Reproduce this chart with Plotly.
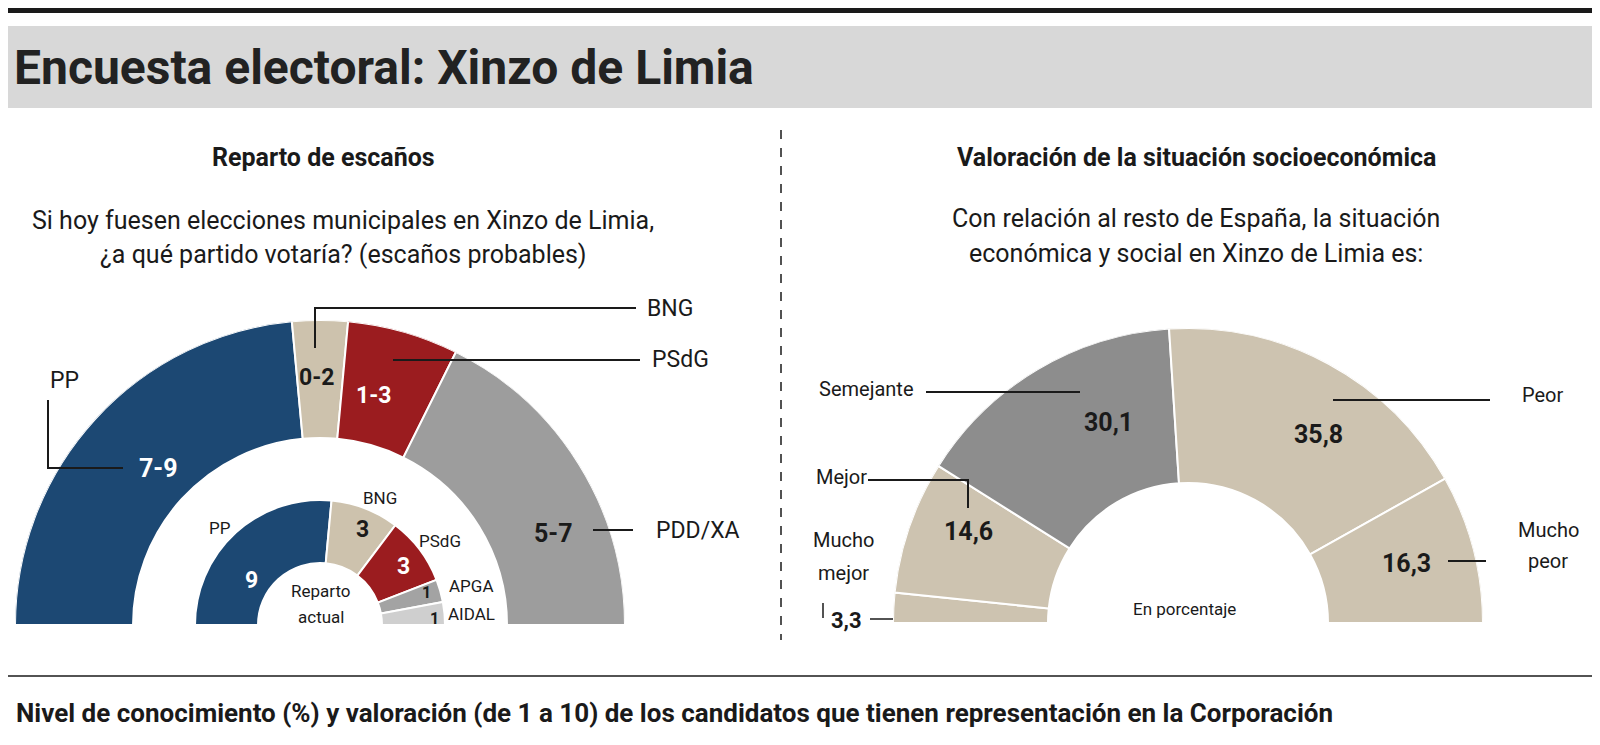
import numpy as np
import plotly.graph_objects as go

W, H = 1600, 745

# Reparto de escaños (punto medio de los rangos probables)
outer_parties = ["PP", "BNG", "PSdG", "PDD/XA"]
outer_seats = [8, 1, 2, 6]
outer_labels = ["7-9", "0-2", "1-3", "5-7"]
outer_colors = ["#1c4873", "#cdc2ad", "#9b1c1f", "#9d9d9d"]

inner_parties = ["PP", "BNG", "PSdG", "APGA", "AIDAL"]
inner_seats = [9, 3, 3, 1, 1]
inner_colors = ["#1c4873", "#cdc2ad", "#9b1c1f", "#a3a3a3", "#cfcfcf"]

# Valoración socioeconómica (%)
val_cats = ["Mucho mejor", "Mejor", "Semejante", "Peor", "Mucho peor"]
val_pct = [3.3, 14.6, 30.1, 35.8, 16.3]
val_colors = ["#cdc3b0", "#cdc3b0", "#8d8d8d", "#cdc3b0", "#cdc3b0"]

FONT = "Liberation Sans Narrow, Roboto, sans-serif"


def ring(values, colors, inner, outer, subplot):
    v = np.array(values, dtype=float)
    tot = v.sum()
    cum = np.cumsum(v)
    theta = 180 - (cum - v / 2) / tot * 180
    width = v / tot * 180
    return go.Barpolar(theta=theta, width=width, r=[outer - inner] * len(v),
                       base=[inner] * len(v), marker=dict(color=colors, line=dict(color="white", width=2)),
                       hoverinfo="skip", showlegend=False, subplot=subplot)


fig = go.Figure()
fig.add_trace(ring(outer_seats, outer_colors, 187, 305, "polar"))
fig.add_trace(ring(inner_seats, inner_colors, 62, 125, "polar"))
fig.add_trace(ring(val_pct, val_colors, 140, 295, "polar2"))

polar_common = dict(sector=[0, 180], bgcolor="rgba(0,0,0,0)",
                    angularaxis=dict(visible=False), )
fig.update_layout(
    width=W, height=H, margin=dict(l=0, r=0, t=0, b=0),
    paper_bgcolor="white", plot_bgcolor="white",
    polar=dict(domain=dict(x=[7 / W, 617 / W], y=[1 - 617 / H, 1 - 312 / H]),
               radialaxis=dict(visible=False, range=[0, 305]), **polar_common),
    polar2=dict(domain=dict(x=[885 / W, 1475 / W], y=[1 - 615 / H, 1 - 320 / H]),
                radialaxis=dict(visible=False, range=[0, 295]), **polar_common),
)


def px_x(x):
    return x / W


def px_y(y):
    return 1 - y / H


def text(x, y, s, size=20, color="#1a1a1a", bold=False, anchor="center"):
    if bold:
        s = "<b>" + s + "</b>"
    fig.add_annotation(x=px_x(x), y=px_y(y), xref="paper", yref="paper", text=s, showarrow=False,
                       xanchor=anchor, yanchor="middle", font=dict(family=FONT, size=size, color=color))


def line(pts, dash=None, width=2):
    path = "M " + " L ".join(f"{px_x(a)},{px_y(b)}" for a, b in pts)
    fig.add_shape(type="path", path=path, xref="paper", yref="paper",
                  line=dict(color="#1a1a1a", width=width, dash=dash))


# header
fig.add_shape(type="rect", xref="paper", yref="paper", x0=0, x1=1, y0=px_y(5), y1=1,
              fillcolor="#1a1a1a", line_width=0)
fig.add_shape(type="rect", xref="paper", yref="paper", x0=0, x1=1, y0=px_y(100), y1=px_y(18),
              fillcolor="#d8d8d8", line_width=0)
text(4, 60, "Encuesta electoral: Xinzo de Limia", size=48, bold=True, anchor="left", color="#222")

line([(773, 122), (773, 632)], dash="dash", width=1.5)
fig.add_shape(type="line", xref="paper", yref="paper", x0=0, x1=1, y0=px_y(668), y1=px_y(668),
              line=dict(color="#1a1a1a", width=1.5))
text(6, 705, "Nivel de conocimiento (%) y valoración (de 1 a 10) de los candidatos que tienen representación en la Corporación",
     size=26, bold=True, anchor="left")

# left texts
text(315, 150, "Reparto de escaños", size=25, bold=True)
text(335, 212, "Si hoy fuesen elecciones municipales en Xinzo de Limia,", size=25)
text(335, 246, "¿a qué partido votaría? (escaños probables)", size=25)

text(40, 372, outer_parties[0], size=23, anchor="left")
line([(40, 392), (40, 460), (115, 460)])
text(150, 460, outer_labels[0], size=25, color="white", bold=True)
text(662, 300, outer_parties[1], size=23)
line([(307, 340), (307, 300), (628, 300)])
text(308, 370, outer_labels[1], size=23, bold=True)
text(672, 352, outer_parties[2], size=23)
line([(385, 352), (632, 352)])
text(365, 388, outer_labels[2], size=23, color="white", bold=True)
text(545, 525, outer_labels[3], size=25, bold=True)
line([(585, 522), (625, 522)])
text(690, 522, outer_parties[3], size=23)

text(212, 520, inner_parties[0], size=17)
text(243, 572, str(inner_seats[0]), size=23, color="white", bold=True)
text(372, 490, inner_parties[1], size=17)
text(354, 521, str(inner_seats[1]), size=23, bold=True)
text(432, 533, inner_parties[2], size=17)
text(395, 558, str(inner_seats[2]), size=23, color="white", bold=True)
text(463, 578, inner_parties[3], size=17)
text(418, 584, str(inner_seats[3]), size=16, bold=True)
text(463, 606, inner_parties[4], size=17)
text(426, 610, str(inner_seats[4]), size=16, bold=True)
text(313, 583, "Reparto", size=17)
text(313, 609, "actual", size=17)

# right texts
text(1188, 150, "Valoración de la situación socioeconómica", size=25, bold=True)
text(1188, 210, "Con relación al resto de España, la situación", size=25)
text(1188, 245, "económica y social en Xinzo de Limia es:", size=25)

text(858, 381, "Semejante", size=20)
line([(918, 384), (1072, 384)])
text(1100, 414, "30,1", size=25, bold=True)
text(1535, 387, "Peor", size=20)
line([(1325, 392), (1482, 392)])
text(1310, 426, "35,8", size=25, bold=True)
text(833, 469, "Mejor", size=20)
line([(860, 472), (960, 472), (960, 500)])
text(960, 523, "14,6", size=25, bold=True)
text(835, 532, "Mucho", size=20)
text(835, 565, "mejor", size=20)
line([(815, 595), (815, 610)], width=1.5)
text(838, 612, "3,3", size=22, bold=True)
line([(862, 611), (885, 611)], width=1.5)
text(1540, 522, "Mucho", size=20)
text(1540, 553, "peor", size=20)
text(1398, 555, "16,3", size=25, bold=True)
line([(1440, 553), (1478, 553)])
text(1176, 601, "En porcentaje", size=17)

fig.write_html("out.html")
